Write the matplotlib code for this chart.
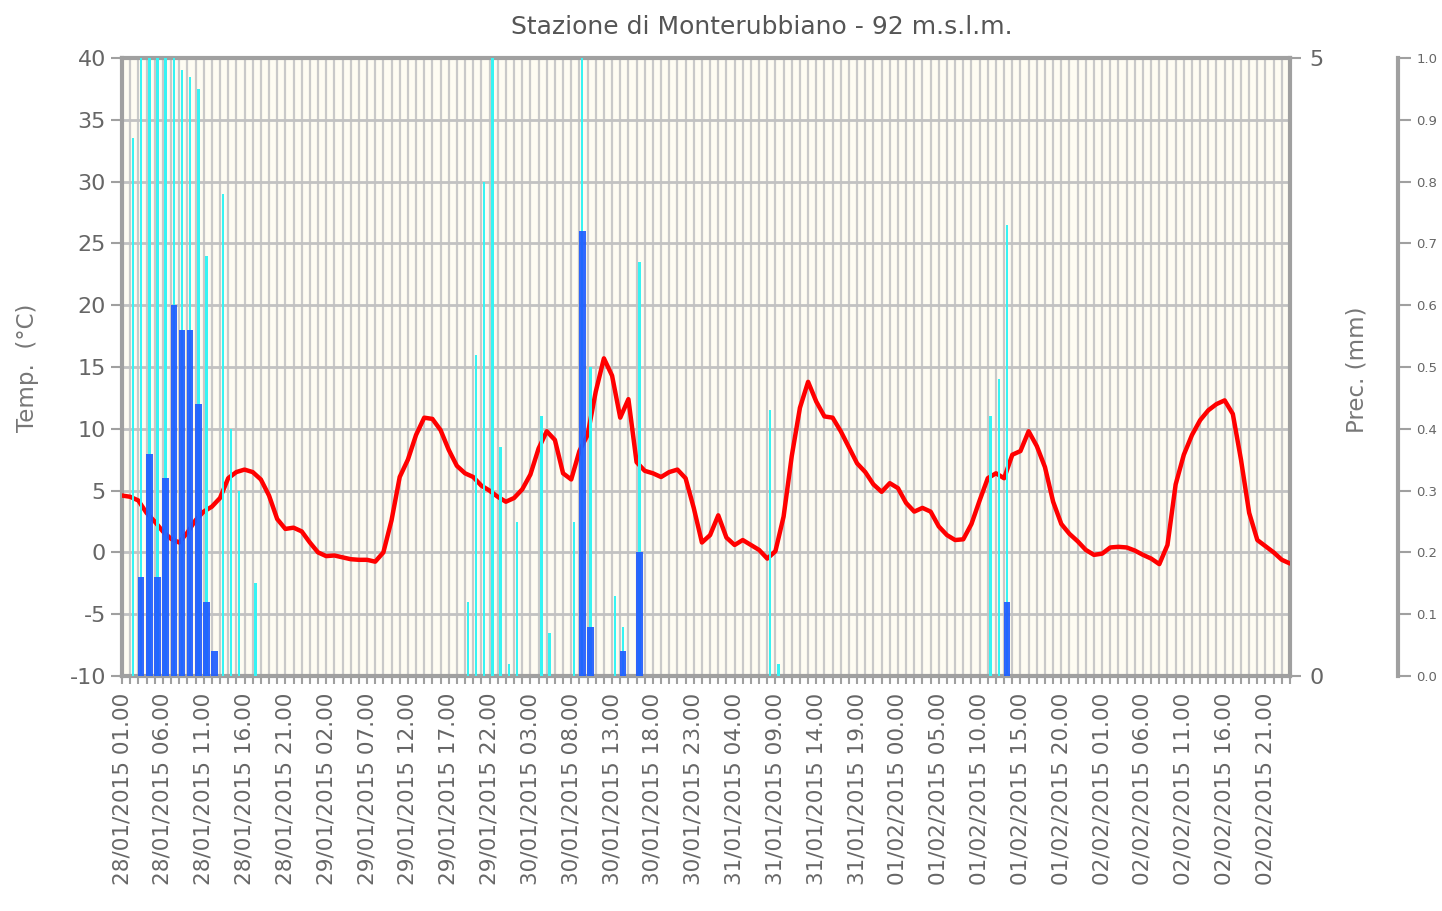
import matplotlib
matplotlib.use("Agg")
import matplotlib.pyplot as plt
import numpy as np
import pandas as pd

plt.rcParams['axes.unicode_minus'] = False

# hourly categories, 28/01/2015 01.00 -> 03/02/2015 00.00
times = pd.date_range('2015-01-28 01:00', periods=144, freq='h')
time_labels = [t.strftime('%d/%m/%Y %H.00') for t in times]

# temperature (°C), one value per hour
temp = [4.6, 4.5, 4.2, 3.2, 2.5, 1.7, 1.1, 0.8, 1.6, 2.6,
        3.3, 3.7, 4.4, 6.0, 6.5, 6.7, 6.5, 5.9, 4.6, 2.7,
        1.9, 2.0, 1.7, 0.8, 0.0, -0.3, -0.25, -0.4, -0.55, -0.6,
        -0.6, -0.75, 0.0, 2.6, 6.1, 7.5, 9.5, 10.9, 10.8, 9.9,
        8.3, 7.0, 6.4, 6.1, 5.4, 5.0, 4.5, 4.1, 4.4, 5.1,
        6.3, 8.4, 9.8, 9.1, 6.4, 5.9, 8.2, 9.5, 13.0, 15.7,
        14.3, 10.9, 12.4, 7.3, 6.6, 6.4, 6.1, 6.5, 6.7, 6.0,
        3.6, 0.8, 1.4, 3.0, 1.2, 0.6, 1.0, 0.6, 0.2, -0.5,
        0.1, 2.9, 7.8, 11.7, 13.8, 12.2, 11.0, 10.9, 9.8, 8.5,
        7.2, 6.5, 5.5, 4.9, 5.6, 5.2, 4.0, 3.3, 3.6, 3.3,
        2.1, 1.4, 1.0, 1.06, 2.3, 4.2, 6.0, 6.4, 6.0, 7.9,
        8.2, 9.8, 8.6, 6.9, 4.1, 2.3, 1.5, 0.9, 0.2, -0.2,
        -0.1, 0.4, 0.45, 0.4, 0.15, -0.2, -0.5, -0.95, 0.6, 5.5,
        7.9, 9.5, 10.7, 11.5, 12.0, 12.3, 11.2, 7.5, 3.2, 1.0,
        0.5, 0.0, -0.6, -0.9]

# thin cyan bars (0..1 scale)
cyan_hours = [1, 2, 3, 4, 5, 6, 7, 8, 9, 10, 12, 13, 14, 16,
              42, 43, 44, 45, 46, 47, 48, 51, 52, 55, 56, 57, 60, 61, 63,
              79, 80, 106, 107, 108]
cyan_vals = [0.87, 1.0, 1.0, 1.0, 1.0, 1.0, 0.98, 0.97, 0.95, 0.68, 0.78, 0.40, 0.30, 0.15,
             0.12, 0.52, 0.80, 1.0, 0.37, 0.02, 0.25, 0.42, 0.07, 0.25, 1.0, 0.50, 0.13, 0.08, 0.67,
             0.43, 0.02, 0.42, 0.48, 0.73]

# precipitation (mm, 0..5 scale)
rain_hours = [2, 3, 4, 5, 6, 7, 8, 9, 10, 11, 56, 57, 61, 63, 108]
rain_mm = [0.8, 1.8, 0.8, 1.6, 3.0, 2.8, 2.8, 2.2, 0.6, 0.2, 3.6, 0.4, 0.2, 1.0, 0.6]

grey = '#a0a0a0'
txt = '#666666'

fig = plt.figure(figsize=(14.42, 9.11), dpi=100)
ax = fig.add_axes([122 / 1442, 1 - 676 / 911, 1168 / 1442, 618 / 911])
ax.set_facecolor('#fefcf2')

x = np.arange(len(temp))
ax.plot(x, temp, color='#ff0000', lw=3.2, solid_joinstyle='round', solid_capstyle='round', zorder=3)
ax.set_xlim(0, len(temp) - 1)
ax.set_ylim(-10, 40)
ax.set_yticks(range(-10, 41, 5))
ax.set_xticks(x[::5])
ax.set_xticklabels(time_labels[::5], rotation=90)
ax.set_xticks(x, minor=True)
ax.grid(which='both', axis='x', color='#c9c9c9', lw=1.6)
ax.grid(which='major', axis='y', color='#c2c2c2', lw=2)
ax.set_axisbelow(True)
ax.tick_params(axis='y', labelsize=16, labelcolor=txt, color=grey, length=8, width=1.5)
ax.tick_params(axis='x', which='both', labelsize=15.5, labelcolor=txt, color=grey, length=6, width=1.5, pad=6)
for s in ax.spines.values():
    s.set_color(grey)
    s.set_linewidth(3)

# cyan series on the outer 0..1 axis (drawn first, behind the blue bars)
ax_c = ax.twinx()
ax_c.bar(np.array(cyan_hours) + 0.35, cyan_vals, width=0.3, color='#36f4f4', linewidth=0)
ax_c.set_ylim(0, 1)
ax_c.set_yticks(np.arange(0, 1.01, 0.1))
ax_c.yaxis.set_major_formatter(lambda v, p: '%.1f' % v)
ax_c.spines['right'].set_position(('axes', 1.0925))
ax_c.tick_params(axis='y', labelsize=9.5, labelcolor=txt, color=grey, length=9, width=1.5, pad=4)
for k in ['left', 'top', 'bottom']:
    ax_c.spines[k].set_visible(False)
ax_c.spines['right'].set_color(grey)
ax_c.spines['right'].set_linewidth(3)

# precipitation on the 0..5 axis
ax_b = ax.twinx()
ax_b.bar(np.array(rain_hours) + 0.35, rain_mm, width=0.8, color='#1f5cff', alpha=0.92, linewidth=0)
ax_b.set_ylim(0, 5)
ax_b.set_yticks([0, 5])
ax_b.tick_params(axis='y', labelsize=16, labelcolor=txt, color=grey, length=8, width=1.5, pad=6)
for s in ax_b.spines.values():
    s.set_visible(False)

fig.text(0.528, 0.970, 'Stazione di Monterubbiano - 92 m.s.l.m.', ha='center', va='center',
         fontsize=18, color='#555555')
fig.text(0.0194, 0.596, 'Temp.  (°C)', rotation=90, ha='center', va='center', fontsize=16.5, color='#777777')
fig.text(0.941, 0.594, 'Prec. (mm)', rotation=90, ha='center', va='center', fontsize=16.5, color='#777777')

fig.savefig('out.png', dpi=100)
